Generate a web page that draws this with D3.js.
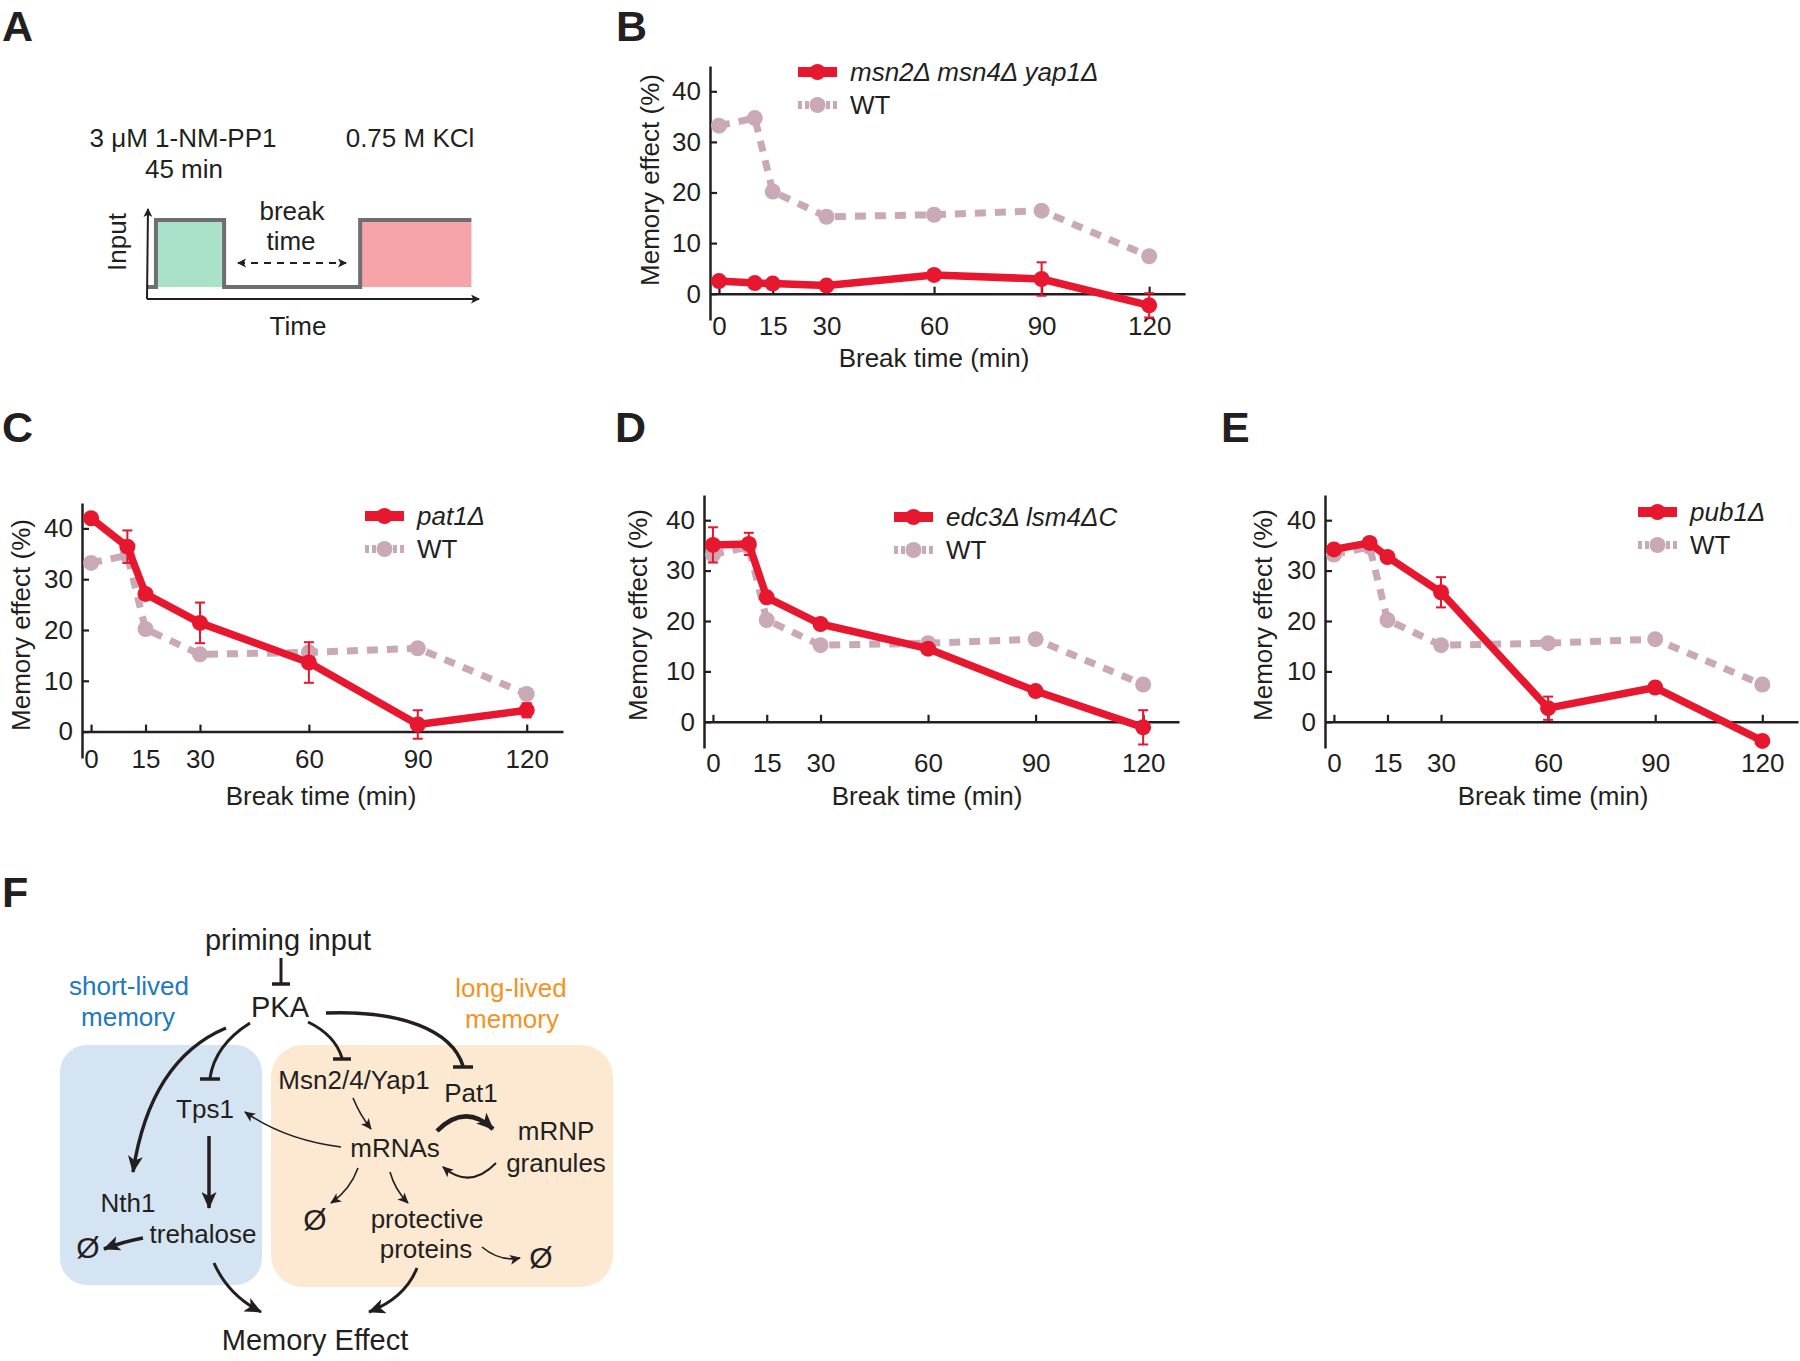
<!DOCTYPE html>
<html><head><meta charset="utf-8">
<script src="https://cdn.jsdelivr.net/npm/d3@7"></script>
<style>
body{margin:0;background:#fff;}
svg{display:block;}
text{font-family:"Liberation Sans",Arial,sans-serif;fill:#231f20;}
</style></head><body>
<svg id="fig" width="1800" height="1361"></svg>
<script>
// ---------------- DATA ----------------
const breakTimes = [0, 10, 15, 30, 60, 90, 120];
const xTickValues = [0, 15, 30, 60, 90, 120];
const yTickValues = [0, 10, 20, 30, 40];
const wtEffect   = [33.2, 34.7, 20.2, 15.2, 15.6, 16.4, 7.4];
const msnEffect  = [2.5, 2.1, 2.0, 1.6, 3.7, 2.9, -2.3];
const msnErr     = [0.4, 0.4, 0.4, 0.6, 0.5, 3.3, 2.4];
const pat1Effect = [42.0, 36.4, 27.1, 21.4, 13.6, 1.4, 4.2];
const pat1Err    = [0.4, 3.2, 0.5, 4.0, 4.0, 2.8, 1.4];
const edc3Effect = [35.1, 35.3, 24.7, 19.4, 14.5, 6.1, -1.1];
const edc3Err    = [3.5, 2.2, 0.5, 0.5, 0.5, 0.8, 3.4];
const pub1Effect = [34.2, 35.5, 32.7, 25.7, 2.7, 6.8, -3.8];
const pub1Err    = [0.5, 0.5, 0.5, 3.0, 2.3, 0.5, 0.5];
const mutantLabels = ["msn2Δ msn4Δ yap1Δ", "pat1Δ", "edc3Δ lsm4ΔC", "pub1Δ"];
const mutantEffects = [msnEffect, pat1Effect, edc3Effect, pub1Effect];
const mutantErrors = [msnErr, pat1Err, edc3Err, pub1Err];
const panelLetters = ["B", "C", "D", "E"];
const wtLabel = "WT";
const xAxisTitle = "Break time (min)";
const yAxisTitle = "Memory effect (%)";

// Panel A schematic input schedule (arbitrary time units, on/off level)
const inputTimes  = [0, 2.7, 23.3, 64.4, 98];
const inputLevels = [0, 1, 0, 1, 1];

// ---------------- STYLE / LAYOUT ----------------
const RED = "#e6172e", WT = "#caa9b6", INK = "#231f20";
const xDomain = [-2.5, 130], yDomain = [-5.2, 45];
const panelLayout = [
  {left:710, right:1185, top:66, bottom:320, tickPad:23, xLabelX:934, xLabelY:367, yLabelX:650, yLabelY:180, legX:798, legY:72, letterX:616, letterY:41},
  {left:82, right:563, top:503, bottom:758, tickPad:18, xLabelX:321, xLabelY:805, yLabelX:21, yLabelY:625, legX:365, legY:516, letterX:2, letterY:442},
  {left:704, right:1179, top:495, bottom:748, tickPad:32, xLabelX:927, xLabelY:805, yLabelX:638, yLabelY:615, legX:894, legY:517, letterX:615, letterY:442},
  {left:1325, right:1798, top:495, bottom:748, tickPad:32, xLabelX:1553, xLabelY:805, yLabelX:1263, yLabelY:615, legX:1638, legY:512, letterX:1221, letterY:442}
];

const svg = d3.select("#fig");
const defs = svg.append("defs");
function addMarker(id, len, half) {
  defs.append("marker").attr("id", id).attr("markerUnits", "userSpaceOnUse")
    .attr("viewBox", `0 0 ${len} ${half*2}`).attr("markerWidth", len).attr("markerHeight", half*2)
    .attr("refX", len - 1).attr("refY", half).attr("orient", "auto-start-reverse")
    .append("path").attr("d", `M0,0 L${len},${half} L0,${half*2} L${len*0.25},${half} Z`).attr("fill", INK);
}
addMarker("big", 17, 7.5);
addMarker("small", 11, 5);
addMarker("tiny", 9, 4.5);

function letter(t, x, y) {
  svg.append("text").attr("x", x).attr("y", y).attr("font-size", 43).attr("font-weight", "bold").text(t);
}

// ---------------- PANEL A ----------------
letter("A", 2, 41);
{
  const xA = d3.scaleLinear([0, 100], [147, 478]);
  const yA = d3.scaleLinear([0, 1], [287, 220]);
  const pts = inputTimes.map((t, i) => [t, inputLevels[i]]);
  svg.append("rect").attr("x", xA(inputTimes[1])).attr("y", yA(1)).attr("width", xA(inputTimes[2]) - xA(inputTimes[1]))
    .attr("height", yA(0) - yA(1)).attr("fill", "#a9e2c9");
  svg.append("rect").attr("x", xA(inputTimes[3])).attr("y", yA(1)).attr("width", xA(inputTimes[4]) - xA(inputTimes[3]))
    .attr("height", yA(0) - yA(1)).attr("fill", "#f6a4a9");
  const stepLine = d3.line().x(d => xA(d[0])).y(d => yA(d[1])).curve(d3.curveStepAfter);
  svg.append("path").attr("d", stepLine(pts)).attr("fill", "none").attr("stroke", "#6d6e71").attr("stroke-width", 4);
  svg.append("line").attr("x1", xA(0)).attr("y1", 299).attr("x2", 148).attr("y2", 209)
    .attr("stroke", INK).attr("stroke-width", 2).attr("marker-end", "url(#tiny)");
  svg.append("line").attr("x1", xA(0)).attr("y1", 299).attr("x2", 479).attr("y2", 299)
    .attr("stroke", INK).attr("stroke-width", 2).attr("marker-end", "url(#tiny)");
  svg.append("line").attr("x1", 238).attr("y1", 263).attr("x2", 346).attr("y2", 263)
    .attr("stroke", INK).attr("stroke-width", 2).attr("stroke-dasharray", "7,6")
    .attr("marker-start", "url(#tiny)").attr("marker-end", "url(#tiny)");
  const tA = [
    ["3 μM 1-NM-PP1", 183, 147], ["45 min", 184, 178], ["0.75 M KCl", 410, 147],
    ["break", 292, 220], ["time", 291, 250], ["Time", 298, 335]
  ];
  tA.forEach(d => svg.append("text").attr("x", d[1]).attr("y", d[2]).attr("text-anchor", "middle").attr("font-size", 26).text(d[0]));
  svg.append("text").attr("transform", "translate(126,242) rotate(-90)").attr("text-anchor", "middle").attr("font-size", 26).text("Input");
}

// ---------------- PANELS B-E ----------------
function styleAxis(g) {
  g.attr("font-size", 26).attr("font-family", '"Liberation Sans",Arial,sans-serif').attr("color", INK);
  g.select(".domain").attr("stroke-width", 2.5);
  g.selectAll(".tick line").attr("stroke-width", 2.2);
}
panelLetters.forEach((pl, i) => {
  const L = panelLayout[i];
  letter(pl, L.letterX, L.letterY);
  const x = d3.scaleLinear(xDomain, [L.left, L.right]);
  const y = d3.scaleLinear(yDomain, [L.bottom, L.top]);
  const g = svg.append("g");
  g.append("g").attr("transform", `translate(${L.left},0)`)
    .call(d3.axisLeft(y).tickValues(yTickValues).tickSizeInner(-7).tickSizeOuter(0).tickPadding(9)).call(styleAxis);
  g.append("g").attr("transform", `translate(0,${y(0)})`)
    .call(d3.axisBottom(x).tickValues(xTickValues).tickSizeInner(-7).tickSizeOuter(0).tickPadding(L.tickPad)).call(styleAxis);
  g.append("text").attr("x", L.xLabelX).attr("y", L.xLabelY).attr("text-anchor", "middle").attr("font-size", 26).text(xAxisTitle);
  g.append("text").attr("transform", `translate(${L.yLabelX},${L.yLabelY}) rotate(-90)`).attr("text-anchor", "middle")
    .attr("dominant-baseline", "central").attr("font-size", 26).text(yAxisTitle);

  const line = d3.line().x((d, j) => x(breakTimes[j])).y(d => y(d));
  g.append("path").attr("d", line(wtEffect)).attr("fill", "none").attr("stroke", WT).attr("stroke-width", 7)
    .attr("stroke-dasharray", "11,9");
  g.selectAll(".wt").data(wtEffect).join("circle").attr("cx", (d, j) => x(breakTimes[j])).attr("cy", d => y(d))
    .attr("r", 8).attr("fill", WT);
  const vals = mutantEffects[i], errs = mutantErrors[i];
  g.append("path").attr("d", line(vals)).attr("fill", "none").attr("stroke", RED).attr("stroke-width", 7.5)
    .attr("stroke-linejoin", "round");
  const eb = g.selectAll(".eb").data(vals).join("g");
  eb.append("line").attr("x1", (d, j) => x(breakTimes[j])).attr("x2", (d, j) => x(breakTimes[j]))
    .attr("y1", (d, j) => y(d - errs[j])).attr("y2", (d, j) => y(d + errs[j])).attr("stroke", RED).attr("stroke-width", 2);
  [-1, 1].forEach(s => eb.append("line").attr("x1", (d, j) => x(breakTimes[j]) - 5).attr("x2", (d, j) => x(breakTimes[j]) + 5)
    .attr("y1", (d, j) => y(d + s * errs[j])).attr("y2", (d, j) => y(d + s * errs[j])).attr("stroke", RED).attr("stroke-width", 2));
  g.selectAll(".mp").data(vals).join("circle").attr("cx", (d, j) => x(breakTimes[j])).attr("cy", d => y(d))
    .attr("r", 8).attr("fill", RED);

  const lg = g.append("g").attr("transform", `translate(${L.legX},${L.legY})`);
  lg.append("line").attr("x1", 0).attr("x2", 39).attr("stroke", RED).attr("stroke-width", 10);
  lg.append("circle").attr("cx", 19.5).attr("r", 8).attr("fill", RED);
  lg.append("text").attr("x", 52).attr("y", 9).attr("font-size", 26).attr("font-style", "italic").text(mutantLabels[i]);
  lg.append("line").attr("x1", 0).attr("x2", 39).attr("y1", 33).attr("y2", 33).attr("stroke", WT).attr("stroke-width", 8)
    .attr("stroke-dasharray", "4,3");
  lg.append("circle").attr("cx", 19.5).attr("cy", 33).attr("r", 8).attr("fill", WT);
  lg.append("text").attr("x", 52).attr("y", 42).attr("font-size", 26).text(wtLabel);
});

// ---------------- PANEL F ----------------
letter("F", 2, 907);
svg.append("rect").attr("x", 60).attr("y", 1045).attr("width", 202).attr("height", 240).attr("rx", 27).attr("fill", "#d4e4f2");
svg.append("rect").attr("x", 271).attr("y", 1045).attr("width", 342).attr("height", 242).attr("rx", 32).attr("fill", "#fde9d2");
const diagramTexts = [
  ["priming input", 288, 950, 29, INK], ["PKA", 280, 1017, 29, INK],
  ["short-lived", 129, 995, 26, "#2079c0"], ["memory", 128, 1026, 26, "#2079c0"],
  ["long-lived", 511, 997, 26, "#f6921e"], ["memory", 512, 1028, 26, "#f6921e"],
  ["Msn2/4/Yap1", 354, 1089, 26, INK], ["Pat1", 471, 1102, 26, INK], ["Tps1", 205, 1118, 26, INK],
  ["mRNAs", 395, 1157, 26, INK], ["mRNP", 556, 1140, 26, INK], ["granules", 556, 1172, 26, INK],
  ["Nth1", 128, 1212, 26, INK], ["trehalose", 203, 1243, 26, INK],
  ["Ø", 88, 1258, 30, INK], ["Ø", 315, 1230, 30, INK], ["Ø", 541, 1268, 30, INK],
  ["protective", 427, 1228, 26, INK], ["proteins", 426, 1258, 26, INK], ["Memory Effect", 315, 1350, 29, INK]
];
diagramTexts.forEach(d => svg.append("text").attr("x", d[1]).attr("y", d[2]).attr("text-anchor", "middle")
  .attr("font-size", d[3]).style("fill", d[4]).text(d[0]));

const inhibitions = [
  ["M281,958 L281,983", 3, 272, 290, 984],
  ["M250,1023 Q215,1045 210,1078", 3, 200, 220, 1079],
  ["M308,1022 Q335,1035 342,1058", 3, 333, 351, 1059],
  ["M326,1013 C400,1010 452,1030 463,1066", 3.5, 453, 473, 1067]
];
inhibitions.forEach(d => {
  svg.append("path").attr("d", d[0]).attr("fill", "none").attr("stroke", INK).attr("stroke-width", d[1]);
  svg.append("line").attr("x1", d[2]).attr("x2", d[3]).attr("y1", d[4]).attr("y2", d[4]).attr("stroke", INK).attr("stroke-width", 3.5);
});
const activations = [
  ["M226,1028 Q150,1060 133,1172", 3.5, "big"],
  ["M209,1136 L209,1208", 3.5, "big"],
  ["M353,1098 Q360,1115 371,1129", 1.6, "small"],
  ["M341,1147 Q285,1140 245,1112", 1.6, "small"],
  ["M437,1131 Q465,1103 493,1129", 4.5, "big"],
  ["M496,1163 Q470,1190 443,1167", 2, "small"],
  ["M358,1168 Q350,1190 331,1203", 1.6, "small"],
  ["M390,1172 Q395,1190 408,1203", 1.6, "small"],
  ["M482,1247 Q500,1262 520,1258", 1.6, "small"],
  ["M143,1238 Q122,1242 104,1249", 3.5, "big"],
  ["M214,1263 Q228,1295 261,1312", 3, "big"],
  ["M417,1268 Q405,1298 369,1312", 3, "big"]
];
activations.forEach(d => svg.append("path").attr("d", d[0]).attr("fill", "none").attr("stroke", INK)
  .attr("stroke-width", d[1]).attr("marker-end", `url(#${d[2]})`));
</script>
</body></html>
